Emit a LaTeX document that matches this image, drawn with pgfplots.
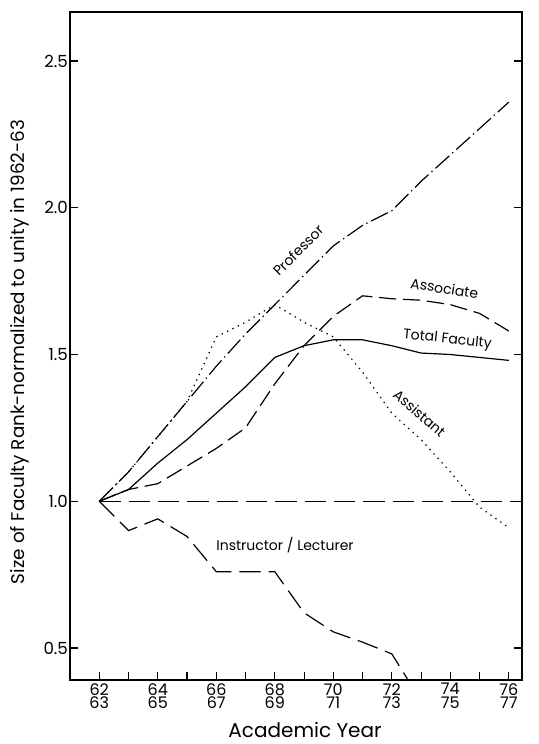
\documentclass[border=0pt]{standalone}
\usepackage{pgfplots}
\pgfplotsset{compat=1.18}
\usepackage{fontspec}
\setmainfont{Poppins}
\begin{document}
\begin{tikzpicture}
\begin{axis}[
  scale only axis,
  width=339pt, height=501pt,
  xmin=61.0, xmax=76.45,
  ymin=0.391, ymax=2.667,
  axis line style={black, line width=0.9pt},
  xtick={62,64,...,76},
  xticklabels={62\\63,64\\65,66\\67,68\\69,70\\71,72\\73,74\\75,76\\77},
  minor xtick={63,65,...,75},
  xtick pos=left,
  ytick={0.5,1.0,1.5,2.0,2.5},
  ytick pos=both,
  major tick length=6pt, minor tick length=6pt,
  every tick/.style={black, line width=0.8pt},
  xticklabel style={align=center, font=\fontsize{12}{10}\selectfont, yshift=1pt},
  yticklabel style={font=\fontsize{12.5}{12}\selectfont, xshift=2pt},
  yticklabel={\pgfmathprintnumber[fixed,fixed zerofill,precision=1]{\tick}},
  /pgf/number format/assume math mode=true,
  xlabel={Academic Year},
  ylabel={Size of Faculty Rank-normalized to unity in 1962-63},
  every axis x label/.style={at={(axis description cs:0.52,-0.075)}, anchor=center, font=\fontsize{15}{15}\selectfont},
  every axis y label/.style={at={(axis description cs:-0.111,0.491)}, anchor=center, rotate=90, font=\fontsize{13.8}{13.8}\selectfont},
  clip=true,
]
% 1.0 reference line
\addplot[black, line width=0.9pt, dash pattern=on 16pt off 6pt] coordinates {(62,1.0) (76.2,1.0)};
% Professor
\addplot[black, line width=0.9pt, dash pattern=on 14pt off 3pt on 1pt off 3pt] coordinates {
(62,1.0) (63,1.10) (64,1.22) (65,1.34) (66,1.46) (67,1.57) (68,1.67) (69,1.77) (70,1.87) (71,1.94) (72,1.99) (73,2.09) (74,2.18) (75,2.27) (76,2.36)};
% Assistant
\addplot[black, line width=0.9pt, dash pattern=on 1pt off 3.5pt] coordinates {
(62,1.0) (63,1.10) (64,1.22) (65,1.34) (66,1.56) (67,1.61) (68,1.67) (69,1.61) (70,1.56) (71,1.44) (72,1.30) (73,1.21) (74,1.10) (75,0.98) (76,0.91)};
% Total Faculty
\addplot[black, line width=0.9pt] coordinates {
(62,1.0) (63,1.04) (64,1.13) (65,1.21) (66,1.30) (67,1.39) (68,1.49) (69,1.53) (70,1.55) (71,1.55) (72,1.53) (73,1.505) (74,1.50) (75,1.49) (76,1.48)};
% Associate
\addplot[black, line width=0.9pt, dash pattern=on 13pt off 5pt] coordinates {
(62,1.0) (63,1.04) (64,1.06) (65,1.12) (66,1.18) (67,1.25) (68,1.40) (69,1.53) (70,1.63) (71,1.70) (72,1.69) (73,1.685) (74,1.67) (75,1.64) (76,1.58)};
% Instructor / Lecturer
\addplot[black, line width=0.9pt, dash pattern=on 16pt off 6pt] coordinates {
(62,1.0) (63,0.90) (64,0.94) (65,0.88) (66,0.76) (67,0.76) (68,0.76) (69,0.62) (70,0.555) (71,0.52) (72,0.48) (73,0.32)};
\node[rotate=45, font=\fontsize{10.5}{10.5}\selectfont] at (axis cs:68.8,1.855) {Professor};
\node[rotate=-9, font=\fontsize{10.5}{10.5}\selectfont] at (axis cs:73.8,1.725) {Associate};
\node[rotate=-6, font=\fontsize{10.5}{10.5}\selectfont] at (axis cs:73.9,1.55) {Total Faculty};
\node[rotate=-41, font=\fontsize{10.5}{10.5}\selectfont] at (axis cs:72.95,1.30) {Assistant};
\node[font=\fontsize{10.5}{10.5}\selectfont] at (axis cs:68.35,0.85) {Instructor / Lecturer};
\coordinate (sw) at (rel axis cs:0,0);
\coordinate (ne) at (rel axis cs:1,1);
\end{axis}
\pgfresetboundingbox
\path ([shift={(-52.5pt,-48pt)}]sw) rectangle ([shift={(12.75pt,9pt)}]ne);
\end{tikzpicture}
\end{document}
